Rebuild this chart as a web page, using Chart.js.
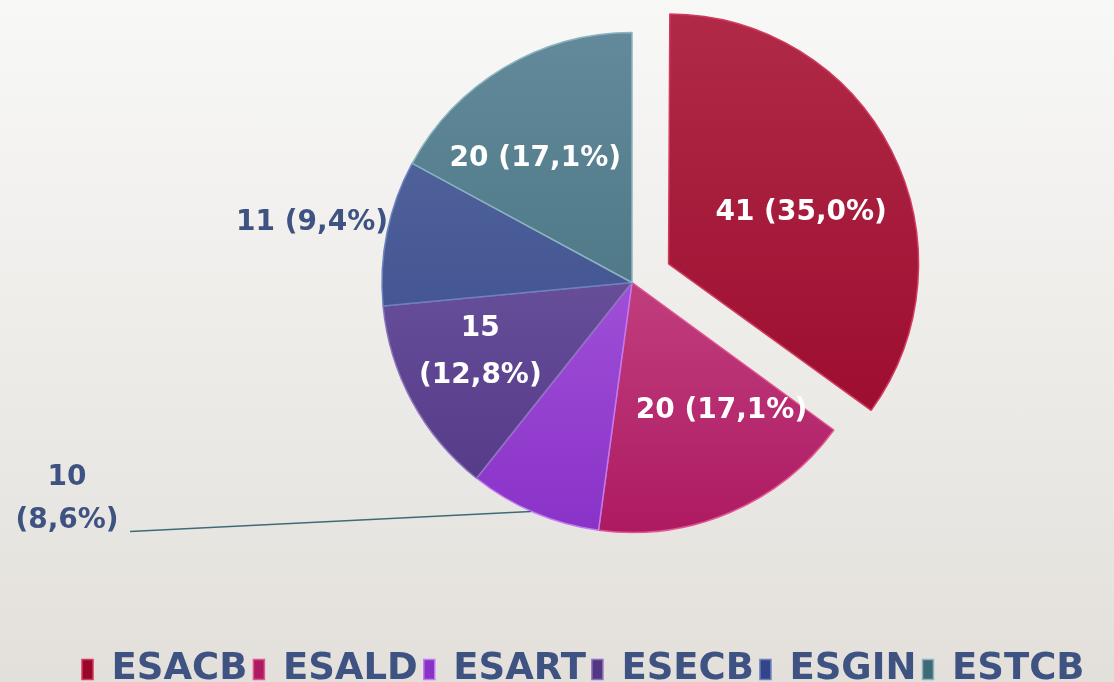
<!DOCTYPE html>
<html>
<head>
<meta charset="utf-8">
<script src="https://cdn.jsdelivr.net/npm/chart.js@4.4.0/dist/chart.umd.min.js"></script>
<style>
html, body { margin: 0; padding: 0; }
body { width: 1114px; height: 682px; overflow: hidden; background: linear-gradient(#f8f8f7, #e3e0db); }
#wrap { width: 1114px; height: 682px; overflow: hidden; position: relative; }
canvas { display: block; position: absolute; left: 0; top: -80px; }
</style>
</head>
<body>
<div id="wrap"><canvas id="pie" width="1188" height="778"></canvas></div>
<script>
// dados do gráfico
const categories = ['ESACB', 'ESALD', 'ESART', 'ESECB', 'ESGIN', 'ESTCB'];
const values = [41, 20, 10, 15, 11, 20];
const pctLabels = ['35,0%', '17,1%', '8,6%', '12,8%', '9,4%', '17,1%'];

// cores (topo / fundo do gradiente) e contorno
const sliceTop = ['#b02a47', '#d2629a', '#b36ce6', '#7a66ae', '#586b9f', '#628a9a'];
const sliceBottom = ['#98062a', '#ae1a62', '#8a32c8', '#523684', '#33458a', '#3e6977'];
const edgeColors = ['#d23a60', '#e2568f', '#c27cf2', '#8c74bd', '#6c81bd', '#8cb4c0'];
const darkText = '#3f5382';
const PIE_R = 250;

// onde fica cada rótulo (graus a partir do topo, distância ao centro)
const labelPlace = [
    { ang: 69, dist: 142 },
    { ang: 145, dist: 156 },
    { callout: true },
    { ang: 246, dist: 166, split: true },
    { outside: true },
    { ang: 322, dist: 157 }
];

function sliceFill(c) {
    const i = c.dataIndex;
    const area = c.chart.chartArea;
    if (!area) return sliceBottom[i];
    const cy = (area.top + area.bottom) / 2;
    const g = c.chart.ctx.createLinearGradient(0, cy - PIE_R, 0, cy + PIE_R);
    g.addColorStop(0, sliceTop[i]);
    g.addColorStop(1, sliceBottom[i]);
    return g;
}

function arcShift(arc) {
    // o ArcElement do chart.js v4 desloca offset/4 e aumenta o raio em offset/4 * fix
    const o = (arc.options.offset || 0) / 4;
    const fix = 1 - Math.sin(Math.min(Math.PI, arc.circumference || 0));
    return { o, grow: o * fix };
}

// mantém a fatia destacada com o mesmo raio das outras
const keepRadius = {
    id: 'keepRadius',
    beforeDatasetsDraw(chart) {
        const meta = chart.getDatasetMeta(0);
        const r = meta.controller.outerRadius;
        meta.data.forEach(arc => {
            arc.outerRadius = r - arcShift(arc).grow;
        });
    }
};

const labelPlugin = {
    id: 'valueLabels',
    afterDatasetsDraw(chart) {
        const ctx = chart.ctx;
        const meta = chart.getDatasetMeta(0);
        const R = meta.controller.outerRadius;
        ctx.save();
        ctx.font = 'bold 28px "DejaVu Sans"';
        ctx.textBaseline = 'middle';
        meta.data.forEach((arc, i) => {
            const off = arcShift(arc).o;
            const mid = (arc.startAngle + arc.endAngle) / 2;
            const cx = arc.x + Math.cos(mid) * off;
            const cy = arc.y + Math.sin(mid) * off;
            const place = labelPlace[i];
            const txt = values[i] + ' (' + pctLabels[i] + ')';

            if (place.outside) {
                const ex = cx + Math.cos(mid) * R;
                const ey = cy + Math.sin(mid) * R;
                ctx.fillStyle = darkText;
                ctx.textAlign = 'right';
                ctx.fillText(txt, ex + 1, ey - 10);
            } else if (place.callout) {
                const ex = cx + Math.cos(mid) * R;
                const ey = cy + Math.sin(mid) * R;
                ctx.strokeStyle = '#3e6b78';
                ctx.lineWidth = 1.5;
                ctx.beginPath();
                ctx.moveTo(ex - 404, ey + 19);
                ctx.lineTo(ex - 3, ey - 1);
                ctx.stroke();
                ctx.fillStyle = darkText;
                ctx.textAlign = 'center';
                ctx.fillText(String(values[i]), ex - 467, ey - 35);
                ctx.fillText('(' + pctLabels[i] + ')', ex - 467, ey + 8);
            } else {
                const a = (place.ang - 90) * Math.PI / 180;
                const lx = cx + Math.cos(a) * place.dist;
                const ly = cy + Math.sin(a) * place.dist;
                ctx.fillStyle = '#ffffff';
                ctx.textAlign = 'center';
                if (place.split) {
                    ctx.fillText(String(values[i]), lx, ly - 21);
                    ctx.fillText('(' + pctLabels[i] + ')', lx, ly + 26);
                } else {
                    ctx.fillText(txt, lx, ly);
                }
            }
        });
        ctx.restore();
    }
};

const ctx = document.getElementById('pie').getContext('2d');
const pieChart = new Chart(ctx, {
    type: 'pie',
    data: {
        labels: categories,
        datasets: [{
            data: values,
            backgroundColor: sliceFill,
            borderColor: edgeColors,
            borderWidth: 1.5,
            offset: [164, 0, 0, 0, 0, 0]
        }]
    },
    options: {
        responsive: false,
        animation: false,
        radius: PIE_R,
        layout: { padding: { left: 76, right: 0, top: 0, bottom: 0 } },
        plugins: {
            tooltip: { enabled: false },
            legend: {
                position: 'bottom',
                align: 'start',
                labels: {
                    boxWidth: 11,
                    boxHeight: 20,
                    padding: 6,
                    color: darkText,
                    font: { family: 'DejaVu Sans', weight: 'bold', size: 37 }
                }
            }
        }
    },
    plugins: [keepRadius, labelPlugin]
});
</script>
</body>
</html>
